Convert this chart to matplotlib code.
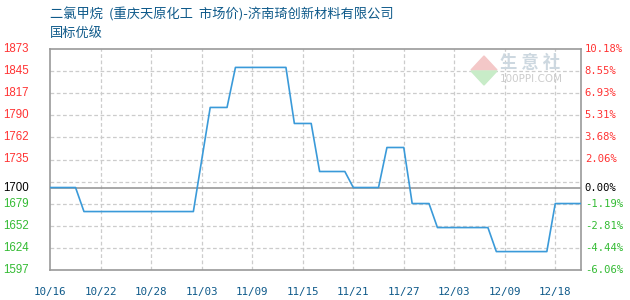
import matplotlib
matplotlib.use("Agg")
import matplotlib.pyplot as plt
from matplotlib.patches import Polygon

# ---- data ----
prices = [1700, 1700, 1700, 1700, 1670, 1670, 1670, 1670, 1670, 1670,
          1670, 1670, 1670, 1670, 1670, 1670, 1670, 1670, 1735, 1800,
          1800, 1800, 1850, 1850, 1850, 1850, 1850, 1850, 1850, 1780,
          1780, 1780, 1720, 1720, 1720, 1720, 1700, 1700, 1700, 1700,
          1750, 1750, 1750, 1680, 1680, 1680, 1650, 1650, 1650, 1650,
          1650, 1650, 1650, 1620, 1620, 1620, 1620, 1620, 1620, 1620,
          1680, 1680, 1680, 1680]
x_labels = ["10/16", "10/22", "10/28", "11/03", "11/09", "11/15",
            "11/21", "11/27", "12/03", "12/09", "12/18"]
x_label_idx = [0, 6, 12, 18, 24, 30, 36, 42, 48, 54, 60]
base_price = 1700
y_min, y_max = 1597, 1873
y_grid = [1597, 1624.6, 1652.2, 1679.8, 1707.4, 1735, 1762.6, 1790.2, 1817.8, 1845.4, 1873]
left_labels = ["1597", "1624", "1652", "1679", "1700", "1735", "1762", "1790", "1817", "1845", "1873"]
right_labels = ["-6.06%", "-4.44%", "-2.81%", "-1.19%", "0.00%", "2.06%", "3.68%", "5.31%", "6.93%", "8.55%", "10.18%"]
title1 = "二氯甲烷  (重庆天原化工  市场价)-济南琦创新材料有限公司"
title2 = "国标优级"

plt.rcParams['font.family'] = ['Noto Sans CJK SC', 'DejaVu Sans']

fig = plt.figure(figsize=(6.3, 3.0), dpi=100)
L, R, T, B = 50.3 / 630, 580.5 / 630, 1 - 49 / 300, 1 - 270 / 300
ax = fig.add_axes([L, B, R - L, T - B])

xs = list(range(len(prices)))
ax.set_xlim(0, len(prices) - 1)
ax.set_ylim(y_min, y_max)

# grid
for g in y_grid[1:-1]:
    ax.axhline(g, color="#cccccc", lw=0.9, ls=(0, (3, 2)), zorder=1)
for i in x_label_idx[1:]:
    ax.axvline(i, color="#cccccc", lw=0.9, ls=(0, (3, 2)), zorder=1)
ax.axhline(base_price, color="#999999", lw=1.2, zorder=2)

ax.plot(xs, prices, color="#3a9ad9", lw=1.2, zorder=3)

for s in ax.spines.values():
    s.set_color("#999999")
    s.set_linewidth(1.2)
ax.set_xticks([])
ax.set_yticks([])

# y labels
label_vals = [y_grid[i] if i != 4 else base_price for i in range(len(y_grid))]
for v, ll, rl in zip(label_vals, left_labels, right_labels):
    if v > base_price + 1:
        c = "#ff3333"
    elif v < base_price - 1:
        c = "#33bb33"
    else:
        c = "#000000"
    ax.text(-0.041, v, ll, transform=ax.get_yaxis_transform(), ha="right", va="center",
            fontsize=8.3, color=c, family=["Liberation Sans"])
    ax.text(1.008, v, rl, transform=ax.get_yaxis_transform(), ha="left", va="center",
            fontsize=7.6, color=c, family=["DejaVu Sans Mono"])

# x labels
for i, lab in zip(x_label_idx, x_labels):
    ax.text(i, -0.075, lab, transform=ax.get_xaxis_transform(), ha="center", va="top",
            fontsize=7.8, color="#0f5a8a", family=["DejaVu Sans Mono"])

# titles
fig.text(50 / 630, 1 - 14 / 300, title1, ha="left", va="center", fontsize=9.5, color="#0f5a8a")
fig.text(50 / 630, 1 - 33 / 300, title2, ha="left", va="center", fontsize=9.5, color="#0f5a8a")

# watermark
tri1 = Polygon([[471 / 630, 1 - 70 / 300], [484 / 630, 1 - 56 / 300], [497 / 630, 1 - 70 / 300]],
               closed=True, transform=fig.transFigure, color="#f4c8c8", zorder=0)
tri2 = Polygon([[471 / 630, 1 - 71 / 300], [484 / 630, 1 - 85 / 300], [497 / 630, 1 - 71 / 300]],
               closed=True, transform=fig.transFigure, color="#c8ecc8", zorder=0)
fig.patches.extend([tri1, tri2])
fig.text(530 / 630, 1 - 63 / 300, "生 意 社", ha="center", va="center", fontsize=12.5,
         color="#cdd8e0", fontweight="bold")
fig.text(531 / 630, 1 - 79 / 300, "100PPI.COM", ha="center", va="center", fontsize=7.5,
         color="#cccccc", family=["DejaVu Sans"])

fig.savefig("out.png", dpi=100)
